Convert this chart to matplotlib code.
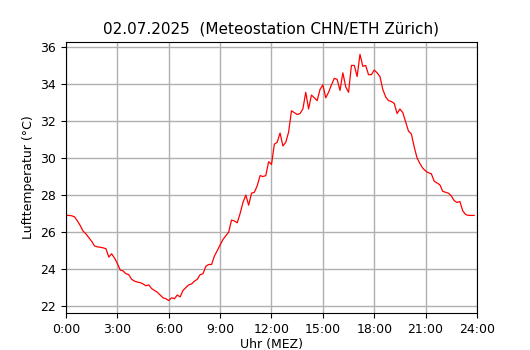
import numpy as np
import matplotlib
matplotlib.use("Agg")
import matplotlib.pyplot as plt

# 10-Minuten-Werte 0:00 .. 23:50
temp = [26.9, 26.9, 26.88, 26.82, 26.6, 26.35,
        26.05, 25.9, 25.7, 25.5, 25.25, 25.2,
        25.18, 25.15, 25.1, 24.65, 24.83, 24.6,
        24.3, 23.95, 23.9, 23.75, 23.7, 23.45,
        23.35, 23.3, 23.27, 23.2, 23.1, 23.15,
        22.95, 22.85, 22.75, 22.6, 22.45, 22.4,
        22.3, 22.45, 22.4, 22.6, 22.5, 22.85,
        23.0, 23.15, 23.2, 23.35, 23.45, 23.7,
        23.75, 24.15, 24.25, 24.25, 24.7, 25.0,
        25.3, 25.6, 25.8, 26.0, 26.65, 26.6,
        26.5, 27.0, 27.6, 28.0, 27.45, 28.1,
        28.15, 28.5, 29.05, 29.0, 29.05, 29.8,
        29.65, 30.75, 30.85, 31.35, 30.65, 30.85,
        31.4, 32.55, 32.45, 32.35, 32.4, 32.65,
        33.55, 32.65, 33.4, 33.25, 33.1, 33.7,
        33.95, 33.25, 33.55, 33.95, 34.3, 34.25,
        33.65, 34.6, 33.85, 33.55, 35.0, 35.0,
        34.4, 35.6, 34.95, 35.0, 34.5, 34.5,
        34.75, 34.6, 34.4, 33.7, 33.3, 33.1,
        33.05, 32.95, 32.4, 32.65, 32.45, 31.95,
        31.45, 31.3, 30.6, 30.0, 29.7, 29.45,
        29.3, 29.2, 29.15, 28.75, 28.65, 28.55,
        28.2, 28.15, 28.1, 27.95, 27.7, 27.6,
        27.65, 27.15, 26.95, 26.9, 26.9, 26.9]
stunden = np.arange(len(temp)) / 6.0

xticks = [0, 3, 6, 9, 12, 15, 18, 21, 24]
xticklabels = ["0:00", "3:00", "6:00", "9:00", "12:00", "15:00", "18:00", "21:00", "24:00"]

fig = plt.figure(figsize=(5.3, 3.5), dpi=100)
ax = fig.add_axes([0.1245, 0.106, 0.7755, 0.774])

ax.plot(stunden, temp, color="red", lw=0.9)
ax.set_xlim(0, 24)
ax.set_xticks(xticks)
ax.set_xticklabels(xticklabels)
ax.set_yticks([22, 24, 26, 28, 30, 32, 34, 36])
ax.grid(True, color="#b0b0b0", lw=1)
ax.tick_params(labelsize=9)

ax.set_xlabel("Uhr (MEZ)", fontsize=9, labelpad=2)
ax.set_ylabel("Lufttemperatur (°C)", fontsize=9)
ax.set_title("02.07.2025  (Meteostation CHN/ETH Zürich)", fontsize=11)

fig.savefig("out.png", dpi=100)
